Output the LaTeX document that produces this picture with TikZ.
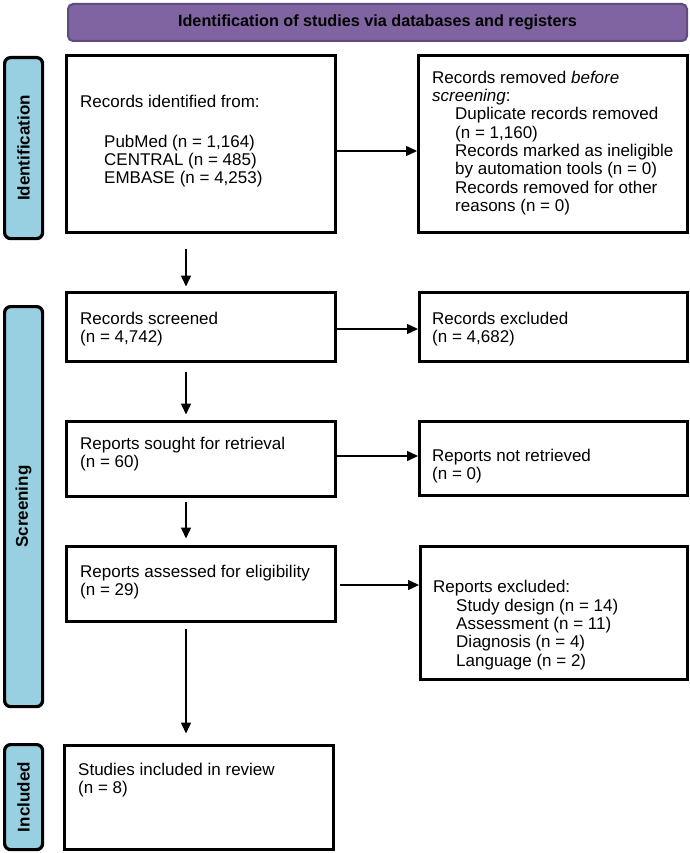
\documentclass[tikz,border=0pt]{standalone}
\usepackage{fontspec}
\setmainfont{Liberation Sans}
\usetikzlibrary{arrows.meta,calc}
\definecolor{hdrfill}{HTML}{8064A2}
\definecolor{hdrline}{HTML}{5F4B7E}
\definecolor{barfill}{HTML}{98D0E1}
\begin{document}
\begin{tikzpicture}[x=1pt,y=-1pt,
  box/.style={draw=black,line width=3pt,fill=white,inner sep=0pt,anchor=north west},
  bar/.style={draw=black,line width=3.2pt,fill=barfill,rounded corners=6pt,inner sep=0pt,anchor=north west},
  txt/.style={align=left,anchor=west,inner sep=0pt,font=\fontsize{17}{18.3}\selectfont},
  arr/.style={line width=1.5pt,-{Triangle[length=11pt,width=10pt]}},
  barlbl/.style={rotate=90,font=\bfseries\fontsize{17}{20}\selectfont,inner sep=0pt}]
\useasboundingbox (0,0) rectangle (689,853);
\fill[white] (0,0) rectangle (689,853);
% header
\node[draw=hdrline,line width=2pt,fill=hdrfill,rounded corners=5pt,minimum width=619pt,minimum height=37pt,anchor=north west,inner sep=0pt,font=\bfseries\fontsize{16.2}{19}\selectfont] (hdr) at (67,3) {Identification of studies via databases and registers};
% side bars
\node[bar,minimum width=38pt,minimum height=181pt] (ib) at (3,56) {};
\node[barlbl] (ibl) at (ib.center) {Identification};
\node[bar,minimum width=38pt,minimum height=400pt] (sb) at (3,305) {};
\node[barlbl] (sbl) at (sb.center) {Screening};
\node[bar,minimum width=38pt,minimum height=105pt] (nb) at (3,743) {};
\node[barlbl] (nbl) at (nb.center) {Included};
% boxes
\node[box,minimum width=269pt,minimum height=177pt] (b1) at (65,54) {};
\node[box,minimum width=269pt,minimum height=177pt] (b2) at (417,54) {};
\node[box,minimum width=269pt,minimum height=69pt] (b3) at (65,291) {};
\node[box,minimum width=268pt,minimum height=69pt] (b4) at (418,291) {};
\node[box,minimum width=269pt,minimum height=75pt] (b5) at (65,420) {};
\node[box,minimum width=268pt,minimum height=74pt] (b6) at (418,420) {};
\node[box,minimum width=269pt,minimum height=75pt] (b7) at (65,545) {};
\node[box,minimum width=267pt,minimum height=133pt] (b8) at (419,545) {};
\node[box,minimum width=269pt,minimum height=104pt] (b9) at (63,744) {};
% texts
\node[txt] (t1) at (80,141) {Records identified from:\\[21.7pt]\hspace*{24pt}PubMed (n = 1,164)\\\hspace*{24pt}CENTRAL (n = 485)\\\hspace*{24pt}EMBASE (n = 4,253)};
\node[txt] (t2) at (432,143) {Records removed \emph{before}\\\emph{screening}:\\\hspace*{23pt}Duplicate records removed\\\hspace*{23pt}(n = 1,160)\\\hspace*{23pt}Records marked as ineligible\\\hspace*{23pt}by automation tools (n = 0)\\\hspace*{23pt}Records removed for other\\\hspace*{23pt}reasons (n = 0)};
\node[txt] (t3) at (80,329) {Records screened\\(n = 4,742)};
\node[txt] (t4) at (432,329) {Records excluded\\(n = 4,682)};
\node[txt] (t5) at (80,454) {Reports sought for retrieval\\(n = 60)};
\node[txt] (t6) at (432,466) {Reports not retrieved\\(n = 0)};
\node[txt] (t7) at (80,582) {Reports assessed for eligibility\\(n = 29)};
\node[txt] (t8) at (433,625) {Reports excluded:\\\hspace*{23pt}Study design (n = 14)\\\hspace*{23pt}Assessment (n = 11)\\\hspace*{23pt}Diagnosis (n = 4)\\\hspace*{23pt}Language (n = 2)};
\node[txt] (t9) at (78,780) {Studies included in review\\(n = 8)};
% connectors
\coordinate (ax) at (186,0);
\coordinate (y1) at (0,151);
\coordinate (y2) at (0,329);
\coordinate (y3) at (0,456);
\coordinate (y4) at (0,585);
\draw[arr] (b1.east |- y1) -- (b2.west |- y1);
\draw[arr] (b3.east |- y2) -- (b4.west |- y2);
\draw[arr] (b5.east |- y3) -- (b6.west |- y3);
\draw[arr,shorten <=2.5pt] (b7.east |- y4) -- (b8.west |- y4);
\draw[arr,shorten <=14.5pt,shorten >=4.5pt] (b1.south -| ax) -- (b3.north -| ax);
\draw[arr,shorten <=8.5pt,shorten >=5.5pt] (b3.south -| ax) -- (b5.north -| ax);
\draw[arr,shorten <=3.5pt,shorten >=6.5pt] (b5.south -| ax) -- (b7.north -| ax);
\draw[arr,shorten <=5.5pt,shorten >=10.5pt] (b7.south -| ax) -- (b9.north -| ax);
\end{tikzpicture}
\end{document}
